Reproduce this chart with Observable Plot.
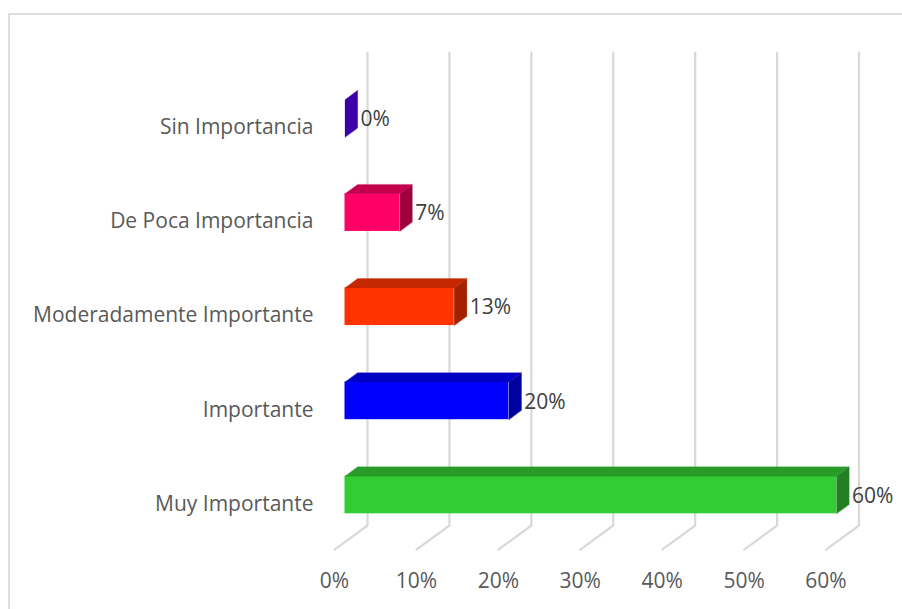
<!DOCTYPE html>
<html>
<head>
<meta charset="utf-8">
<script src="https://cdn.jsdelivr.net/npm/d3@7"></script>
<script src="https://cdn.jsdelivr.net/npm/@observablehq/plot@0.6"></script>
<style>
html,body{margin:0;padding:0;background:#fff;overflow:hidden}
#wrap{position:relative;width:902px;height:609px}
#edge{position:absolute;left:8px;top:13px;right:0;bottom:0;border-left:2px solid #dedede;border-top:2px solid #dedede}
#chart{position:absolute;left:0;top:0}
svg{display:block;background:transparent!important}
</style>
</head>
<body>
<div id="wrap"><div id="edge"></div><div id="chart"></div></div>
<script>
const categories = ["Muy Importante","Importante","Moderadamente Importante","De Poca Importancia","Sin Importancia"];
const values = [60, 20, 13.33, 6.67, 0];
const frontColors = ["#32cd32","#0000ff","#ff3300","#ff0066","#3300a6"];
const topColors = ["#289b28","#0000c4","#c42700","#c4004e","#3300a6"];
const sideColors = ["#228022","#00009e","#a32000","#a00040","#3d00a8"];
const xTicks = [0,10,20,30,40,50,60];

// Oblique 3D projection expressed in data units
const halfBar = 0.2, depthX = 1.55, depthY = 0.1;
const floorFrontX = -1.28, floorBackX = 2.75, floorFrontY = -0.58, floorBackY = -0.324, wallTop = 4.7;

const rows = categories.map((c,i)=>({i,c,v:values[i]}));
const poly = (pts,color)=>Plot.line(pts,{x:d=>d[0],y:d=>d[1],fill:color,stroke:color,strokeWidth:0.25,curve:"linear-closed"});

const marks = [];
marks.push(Plot.line(xTicks.flatMap(t=>[
    {x:t+floorBackX,y:wallTop,k:t},
    {x:t+floorBackX,y:floorBackY,k:t},
    {x:t+floorFrontX,y:floorFrontY,k:t}
  ]),{x:"x",y:"y",z:"k",stroke:"#d9d9d9",strokeWidth:2.25}));
rows.forEach(r=>{
  const b=r.i, v=r.v;
  if(v>0){
    marks.push(Plot.rect([r],{x1:0,x2:d=>d.v,y1:b-halfBar,y2:b+halfBar,fill:frontColors[b]}));
    marks.push(poly([[0,b+halfBar],[v,b+halfBar],[v+depthX,b+halfBar+depthY],[depthX,b+halfBar+depthY]],topColors[b]));
  }
  marks.push(poly([[v,b-halfBar],[v,b+halfBar],[v+depthX,b+halfBar+depthY],[v+depthX,b-halfBar+depthY]],sideColors[b]));
});
marks.push(Plot.text(rows,{x:"v",y:"i",dx:15.5,dy:1,text:d=>Math.round(d.v)+"%",textAnchor:"start",fill:"#404040",fontSize:21}));
marks.push(Plot.axisY({ticks:[0,1,2,3,4],tickFormat:i=>categories[i],tickSize:0,tickPadding:8,anchor:"left",label:null,color:"#595959",fontSize:21,dy:9}));
marks.push(Plot.axisX({ticks:xTicks,tickFormat:d=>d+"%",tickSize:0,tickPadding:8,anchor:"bottom",label:null,dx:-10.5,dy:4,color:"#595959",fontSize:21}));

const chart = Plot.plot({
  width:902,height:609,
  marginLeft:321,marginRight:20,marginTop:20,marginBottom:48,
  style:{fontFamily:"'Open Sans',sans-serif",background:"transparent",overflow:"visible"},
  x:{type:"linear",domain:[0,60],range:[344.5,836]},
  y:{type:"linear",domain:[0,4],range:[494.5,118]},
  marks
});
document.getElementById("chart").appendChild(chart);
</script>
</body>
</html>
